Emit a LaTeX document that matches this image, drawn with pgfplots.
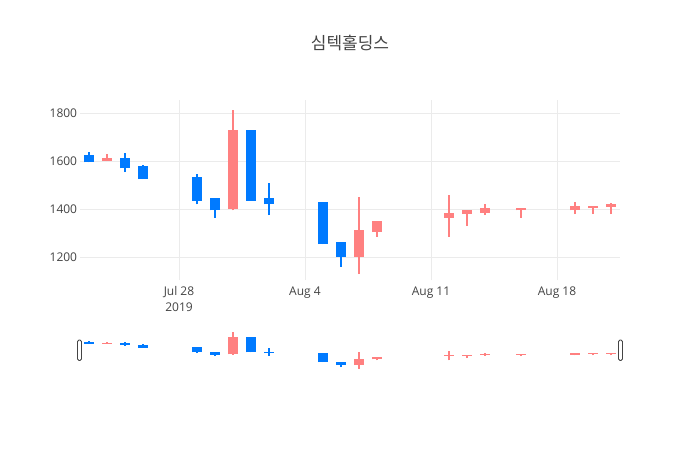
\documentclass[border=0pt]{standalone}
\usepackage{pgfplots}
\pgfplotsset{compat=1.18}
\usepackage{pgfplotstable}
\usepackage{fontspec}
\setmainfont{Open Sans}
\newfontfamily\cjk{Noto Sans CJK KR}

\definecolor{txt}{RGB}{68,68,68}
\definecolor{gridc}{RGB}{235,235,235}
\definecolor{upc}{RGB}{255,128,128}
\definecolor{downc}{RGB}{0,122,255}

% day index: 0 = Jul 28 2019
% d O H L C
\pgfplotstableread{
d  O    H    L    C
-4 1600 1630 1600 1615
3  1400 1815 1395 1730
10 1200 1450 1130 1315
11 1305 1350 1285 1350
15 1365 1460 1285 1385
16 1380 1395 1330 1395
17 1385 1420 1375 1405
19 1395 1405 1365 1405
22 1395 1430 1380 1415
23 1405 1415 1380 1415
24 1410 1425 1380 1420
}\up

\pgfplotstableread{
d  O    H    L    C
-5 1625 1640 1595 1595
-3 1615 1635 1555 1570
-2 1580 1585 1525 1525
1  1535 1545 1420 1435
2  1445 1445 1365 1395
4  1730 1730 1435 1435
5  1445 1510 1375 1420
8  1430 1430 1255 1255
9  1265 1265 1160 1200
}\down

\pgfplotsset{candle/.style 2 args={draw=none, no markers,
    error bars/.cd, y dir=plus, y explicit, error mark=none,
    error bar style={draw=#1, line width=#2}}}

\newcommand{\candles}[2]{%
  \addplot[candle={upc}{#1}]
    table[x=d, y=L, y error plus expr=\thisrow{H}-\thisrow{L}] {\up};
  \addplot[candle={upc}{#2}]
    table[x=d, y=O, y error plus expr=\thisrow{C}-\thisrow{O}] {\up};
  \addplot[candle={downc}{#1}]
    table[x=d, y=L, y error plus expr=\thisrow{H}-\thisrow{L}] {\down};
  \addplot[candle={downc}{#2}]
    table[x=d, y=C, y error plus expr=\thisrow{O}-\thisrow{C}] {\down};
}

\begin{document}
\begin{tikzpicture}
\fill[white] (0pt,0pt) rectangle (700pt,-450pt);
\node[font=\cjk\fontsize{17}{20}\selectfont, text=txt] at (350pt,-43.5pt) {심텍홀딩스};

\begin{axis}[
  at={(80pt,-280pt)}, anchor=south west,
  width=540pt, height=180pt, scale only axis,
  xmin=-5.5, xmax=24.5, ymin=1105, ymax=1855,
  axis line style={draw=none},
  major tick length=0pt,
  grid=major, grid style={draw=gridc, line width=0.8pt},
  xtick={0,7,14,21},
  xticklabels={Jul 28\\2019, Aug 4, Aug 11, Aug 18},
  ytick={1200,1400,1600,1800},
  /pgf/number format/assume math mode=true,
  /pgf/number format/1000 sep={},
  tick label style={font=\fontsize{12}{15.5}\selectfont, text=txt},
  xticklabel style={align=center, anchor=north, inner sep=0pt, yshift=-6.5pt},
  yticklabel style={anchor=east, inner sep=0pt, xshift=-2.7pt},
  clip=true,
]
\candles{1.8pt}{10.8pt}
\end{axis}

\begin{axis}[
  at={(80pt,-370.5pt)}, anchor=south west,
  width=540pt, height=41pt, scale only axis,
  xmin=-5.5, xmax=24.5, ymin=1098, ymax=1862,
  hide axis,
]
\candles{1.8pt}{10.8pt}
\end{axis}

\draw[draw=txt, line width=0.8pt, fill=white, rounded corners=1.5pt]
  (77.5pt,-340pt) rectangle (81.5pt,-360.5pt);
\draw[draw=txt, line width=0.8pt, fill=white, rounded corners=1.5pt]
  (618.5pt,-340pt) rectangle (622.5pt,-360.5pt);
\end{tikzpicture}
\end{document}
